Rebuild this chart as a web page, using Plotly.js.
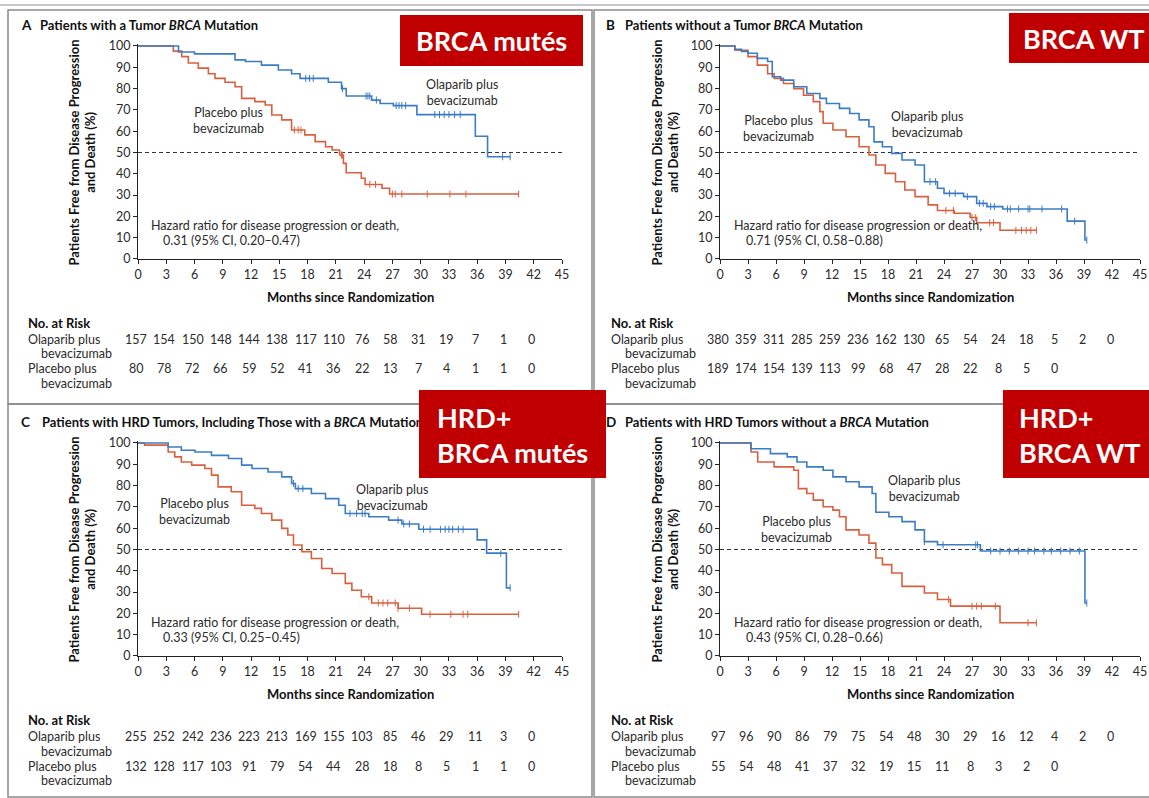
<!DOCTYPE html>
<html><head><meta charset="utf-8">
<script src="https://cdn.plot.ly/plotly-3.0.1.min.js"></script>
<style>html,body{margin:0;padding:0;background:#fff}#chart{width:1149px;height:798px}</style>
</head><body><div id="chart"></div>
<script>
// ---------------- DATA ----------------
const xTicks = [0,3,6,9,12,15,18,21,24,27,30,33,36,39,42,45];
const yTicks = [0,10,20,30,40,50,60,70,80,90,100];
const riskMonths = [0,3,6,9,12,15,18,21,24,27,30,33,36,39,42];

// Panel A: tumor BRCA mutation
const aOlaT = [0,4.3,6.0,10.3,11.4,13.1,14.9,16.3,17.2,20.2,21.6,22.1,24.8,25.7,27.1,29.6,35.8,37.1,39.5];
const aOlaS = [100,97.2,96.3,93.5,92.7,91,88.7,87,84.8,83,80,76.5,74.6,73,72,67.8,57.6,48,48];
const aPlaT = [0,3.75,4.64,5.34,6.4,7.47,8.17,9.24,10.3,11.0,12.4,13.5,14.2,15.25,16.3,17.7,18.8,19.9,20.6,21.4,21.8,22.1,23.7,24.1,25.9,26.7,40.4];
const aPlaS = [100,97.6,95,92,89.6,87,84.8,83,80.9,75.4,73.9,72.3,67.6,65.3,60.6,58.3,55.1,52.7,51.2,48.8,44.9,40.5,37.9,35,33.2,30.5,30.5];
const aOlaCens = [17.8,18.2,18.6,21.7,24.2,24.4,24.6,25.3,27.4,27.7,28.0,28.4,31.5,32.0,32.5,33.0,33.6,34.2,38.7,39.5];
const aPlaCens = [16.6,17.0,17.3,21.6,21.7,24.6,25.2,27.0,27.3,28.0,30.7,33.1,34.8,40.4];
const aRiskOla = [157,154,150,148,144,138,117,110,76,58,31,19,7,1,0];
const aRiskPla = [80,78,72,66,59,52,41,36,22,13,7,4,1,1,0];

// Panel B: no tumor BRCA mutation
const bOlaT = [0,1.6,2.3,3.0,4.0,5.1,5.6,6.5,7.9,9.3,10.7,11.4,12.8,13.9,14.9,15.96,16.5,17.4,18.4,19.5,20.9,21.9,23.3,24.0,26.1,27.5,28.6,30.3,37.2,39.1,39.3];
const bOlaS = [100,98.5,97.5,96.6,94.2,92.7,85.6,84,80.9,77.7,75.4,73,70.7,68.3,65.3,62.1,55,52.7,49.6,46.5,44.1,36.3,33.2,30.8,29.3,26.1,24.6,23.5,17.8,8.9,8.9];
const bPlaT = [0,1.6,3.0,4.0,5.1,5.8,6.8,7.9,8.95,10.0,10.7,11.05,12.1,13.5,14.9,15.96,16.7,17.7,18.8,19.8,20.9,22.3,23.3,25.1,26.8,27.5,30.0,33.9];
const bPlaS = [100,98,95,91,87,84.8,82.4,80,76.9,73.9,69.2,63.7,60.6,57.4,52.7,48.8,44.1,40.2,36.3,32.4,29.3,25.4,22.8,21.5,19.5,17,13.5,13.5];
const bOlaCens = [22.5,23.1,24.6,25.2,26.5,27.8,28.2,29.0,29.4,30.8,31.1,32.0,33.0,33.2,34.5,36.6,38.0,39.3];
const bPlaCens = [24.2,25.0,27.0,27.4,28.9,29.3,31.7,32.3,32.8,33.3,33.9];
const bRiskOla = [380,359,311,285,259,236,162,130,65,54,24,18,5,2,0];
const bRiskPla = [189,174,154,139,113,99,68,47,28,22,8,5,0];

// Panel C: HRD tumors incl. BRCA mutation
const cOlaT = [0,3.2,4.6,6.05,7.8,9.6,11.0,12.1,13.8,15.25,16.3,16.7,18.4,19.9,21.3,22.0,24.5,26.6,28.0,29.8,36.0,37.0,39.1,39.5];
const cOlaS = [100,98.1,96.6,95.8,94.2,92.7,89.6,88,86.4,84.1,81,78.6,76.3,73.9,70.8,66.9,65.4,63.8,62.0,59.5,54.5,48.3,32,32];
const cPlaT = [0,0.7,3.2,3.9,4.6,5.7,7.1,7.8,8.5,9.9,11.0,12.4,13.1,14.2,15.25,15.9,16.5,17.4,18.4,19.5,20.6,22.0,22.7,23.7,24.8,27.6,30.1,40.4];
const cPlaS = [100,99,95.8,93.5,91.1,89.6,88,84.9,79.4,77.1,70.8,69.3,66.9,63.8,59.9,56.8,52.1,49,45.8,41.1,38.7,34.1,30.9,27.8,24.9,22.4,19.6,19.6];
const cOlaCens = [16.5,17.0,17.5,22.5,23.2,23.8,24.1,27.6,28.2,28.8,30.3,31.0,32.1,32.6,33.0,33.4,34.0,34.5,38.5,39.5];
const cPlaCens = [24.5,25.5,26.0,26.5,27.3,27.6,28.8,31.0,33.2,34.5,35.0,40.4];
const cRiskOla = [255,252,242,236,223,213,169,155,103,85,46,29,11,3,0];
const cRiskPla = [132,128,117,103,91,79,54,44,28,18,8,5,1,1,0];

// Panel D: HRD tumors without BRCA mutation
const dOlaT = [0,3.3,5.4,7.2,8.25,9.3,11.05,12.1,13.5,14.9,16.3,16.7,18.1,19.5,20.9,21.9,23.3,27.9,39.1,39.3];
const dOlaS = [100,97.3,95,93.5,91.1,88.8,87.2,84.1,81.8,79.4,76.3,67.5,65.4,63.1,59.2,53.7,52.2,49.3,24.9,24.9];
const dPlaT = [0,3.33,4.04,5.8,7.9,8.4,9.3,10.0,11.05,12.1,12.8,13.5,14.9,15.96,16.7,17.4,18.4,19.5,21.9,23.3,24.7,30.0,33.9];
const dPlaS = [100,95.8,91.1,88.8,87.2,78.6,76.3,73.2,70.1,68.5,65.4,59.2,56.8,53.0,46,42.9,39,32.7,29.6,26.5,23.4,15.6,15.6];
const dOlaCens = [21.9,23.9,27.4,27.6,29.0,30.0,31.0,32.0,33.0,33.7,34.7,35.5,36.5,37.5,38.5,39.3];
const dPlaCens = [24.5,27.0,27.5,28.0,29.5,33.0,33.9];
const dRiskOla = [97,96,90,86,79,75,54,48,30,29,16,12,4,2,0];
const dRiskPla = [55,54,48,41,37,32,19,15,11,8,3,2,0];

const panelLetters = ['A','B','C','D'];
const panelTitles = [
  'Patients with a Tumor <i>BRCA</i> Mutation',
  'Patients without a Tumor <i>BRCA</i> Mutation',
  'Patients with HRD Tumors, Including Those with a <i>BRCA</i> Mutation',
  'Patients with HRD Tumors without a <i>BRCA</i> Mutation'
];
const hrValues = ['0.31 (95% CI, 0.20–0.47)','0.71 (95% CI, 0.58–0.88)','0.33 (95% CI, 0.25–0.45)','0.43 (95% CI, 0.28–0.66)'];
const badgeTexts = ['BRCA mutés','BRCA WT','HRD+<br>BRCA mutés','HRD+<br>BRCA WT'];

// ---------------- LAYOUT ----------------
const W = 1149, H = 798;
const BLUE = '#3b7cc4', RED = '#d9603e', TXT = '#2b2b2b';
const FONT = 'Lato, "Open Sans", sans-serif';
const FS = 12.5;      // regular text
const FSB = 13;       // bold headings

const series = [
  {olaT:aOlaT, olaS:aOlaS, plaT:aPlaT, plaS:aPlaS, olaC:aOlaCens, plaC:aPlaCens, rOla:aRiskOla, rPla:aRiskPla},
  {olaT:bOlaT, olaS:bOlaS, plaT:bPlaT, plaS:bPlaS, olaC:bOlaCens, plaC:bPlaCens, rOla:bRiskOla, rPla:bRiskPla},
  {olaT:cOlaT, olaS:cOlaS, plaT:cPlaT, plaS:cPlaS, olaC:cOlaCens, plaC:cPlaCens, rOla:cRiskOla, rPla:cRiskPla},
  {olaT:dOlaT, olaS:dOlaS, plaT:dPlaT, plaS:dPlaS, olaC:dOlaCens, plaC:dPlaCens, rOla:dRiskOla, rPla:dRiskPla}
];

const geo = [
  {px0:138, px1:562, py0:259, py100:46, letterX:18.5, titleX:37.5, titleY:25, tabL:26, tabI:39, dy:0, yTitleX:82,
   hrX:148.6, hrX2:161, hrY:226, olaLab:[462,93], plaLab:[228,120.5]},
  {px0:720, px1:1140, py0:259, py100:46, letterX:603.5, titleX:622.8, titleY:25, tabL:609, tabI:622.5, dy:0, yTitleX:665,
   hrX:732, hrX2:744.4, hrY:226, olaLab:[927,124.5], plaLab:[778,128]},
  {px0:138, px1:562, py0:656, py100:443, letterX:18.8, titleX:39.5, titleY:421.7, tabL:26, tabI:39, dy:397, yTitleX:82,
   hrX:148.6, hrX2:161, hrY:622.7, olaLab:[392,497.5], plaLab:[195,511.5]},
  {px0:720, px1:1140, py0:656, py100:443, letterX:603.5, titleX:622.8, titleY:421.7, tabL:609, tabI:622.5, dy:397, yTitleX:665,
   hrX:732, hrX2:744.4, hrY:622.7, olaLab:[924,488], plaLab:[796,529.5]}
];
const badges = [
  {x0:400, x1:583, y0:15, y1:66, cx:491.5, cy:40.5, align:'center'},
  {x0:1009, x1:1149, y0:13, y1:63, cx:1084, cy:38, align:'center'},
  {x0:419, x1:606, y0:390, y1:478, lx:434.5, cy:434.5, align:'left'},
  {x0:1003, x1:1149, y0:390, y1:478, lx:1017, cy:434.5, align:'left'}
];

const YMAX = 100.8;
const px = x => x / W;
const py = y => 1 - y / H;

function stepAt(t, T, S) {
  let v = S[0];
  for (let i = 0; i < T.length; i++) { if (T[i] <= t) v = S[i]; }
  return v;
}

const traces = [];
const layout = {
  width: W, height: H, margin: {l:0, r:0, t:0, b:0},
  paper_bgcolor: '#fff', plot_bgcolor: 'rgba(0,0,0,0)',
  showlegend: false, font: {family: FONT, size: FS, color: TXT},
  shapes: [], annotations: []
};

function ann(o) {
  layout.annotations.push(Object.assign({showarrow:false, font:{family:FONT, size:FS, color:TXT}}, o));
}

geo.forEach((g, i) => {
  const k = i === 0 ? '' : String(i + 1);
  const xa = 'x' + k, ya = 'y' + k;
  const s = series[i];
  const yTopPx = g.py0 - (g.py0 - g.py100) * YMAX / 100;
  const axisCommon = {
    showline: true, linecolor: '#222', linewidth: 1, ticks: 'outside', ticklen: 4, tickwidth: 1,
    tickcolor: '#222', showgrid: false, zeroline: false, fixedrange: true,
    tickfont: {family: FONT, size: FS, color: TXT}
  };
  layout['xaxis' + k] = Object.assign({}, axisCommon, {
    domain: [px(g.px0), px(g.px1)], range: [0, 45], tickvals: xTicks, ticktext: xTicks.map(String), anchor: ya,
    ticklabeloverflow: 'allow'
  });
  layout['yaxis' + k] = Object.assign({}, axisCommon, {
    domain: [py(g.py0), py(yTopPx)], range: [0, YMAX], tickvals: yTicks, ticktext: yTicks.map(String), anchor: xa,
    ticklabelstandoff: 0
  });

  // curves
  traces.push({x: s.plaT, y: s.plaS, xaxis: xa, yaxis: ya, mode: 'lines', line: {shape: 'hv', color: RED, width: 1.6}, hoverinfo: 'skip'});
  traces.push({x: s.olaT, y: s.olaS, xaxis: xa, yaxis: ya, mode: 'lines', line: {shape: 'hv', color: BLUE, width: 1.6}, hoverinfo: 'skip'});
  // censor ticks
  traces.push({x: s.plaC, y: s.plaC.map(t => stepAt(t, s.plaT, s.plaS)), xaxis: xa, yaxis: ya, mode: 'markers',
    marker: {symbol: 'line-ns-open', size: 5, color: RED, line: {color: RED, width: 1}}, hoverinfo: 'skip'});
  traces.push({x: s.olaC, y: s.olaC.map(t => stepAt(t, s.olaT, s.olaS)), xaxis: xa, yaxis: ya, mode: 'markers',
    marker: {symbol: 'line-ns-open', size: 5, color: BLUE, line: {color: BLUE, width: 1}}, hoverinfo: 'skip'});

  // dashed median line
  layout.shapes.push({type: 'line', xref: xa, yref: ya, x0: 0, x1: 45, y0: 50, y1: 50,
    line: {color: '#333', width: 1, dash: '4px,3px'}, layer: 'below'});

  // panel letter + title
  ann({xref:'paper', yref:'paper', x: px(g.letterX), y: py(g.titleY), xanchor:'left', yanchor:'middle',
       text: '<b>' + panelLetters[i] + '</b>', font:{family:FONT, size:13.5, color:'#111'}});
  ann({xref:'paper', yref:'paper', x: px(g.titleX), y: py(g.titleY), xanchor:'left', yanchor:'middle',
       text: '<b>' + panelTitles[i] + '</b>', font:{family:FONT, size:FSB, color:'#111'}});

  // axis titles
  ann({xref:'paper', yref:'paper', x: px(g.yTitleX), y: py((g.py0 + g.py100) / 2), xanchor:'center', yanchor:'middle',
       textangle: -90, text: '<b>Patients Free from Disease Progression<br>and Death (%)</b>',
       font:{family:FONT, size:FSB, color:'#111'}});
  ann({xref:'paper', yref:'paper', x: px((g.px0 + g.px1) / 2), y: py(297 + g.dy), xanchor:'center', yanchor:'middle',
       text: '<b>Months since Randomization</b>', font:{family:FONT, size:FSB, color:'#111'}});

  // curve labels
  ann({xref:'paper', yref:'paper', x: px(g.olaLab[0]), y: py(g.olaLab[1]), xanchor:'center', yanchor:'middle',
       text: 'Olaparib plus<br>bevacizumab', align:'center'});
  ann({xref:'paper', yref:'paper', x: px(g.plaLab[0]), y: py(g.plaLab[1]), xanchor:'center', yanchor:'middle',
       text: 'Placebo plus<br>bevacizumab', align:'center'});

  // hazard ratio
  ann({xref:'paper', yref:'paper', x: px(g.hrX), y: py(g.hrY), xanchor:'left', yanchor:'middle',
       text: 'Hazard ratio for disease progression or death,'});
  ann({xref:'paper', yref:'paper', x: px(g.hrX2), y: py(g.hrY + 14.5), xanchor:'left', yanchor:'middle',
       text: hrValues[i]});

  // risk table
  const d = g.dy;
  ann({xref:'paper', yref:'paper', x: px(g.tabL), y: py(323 + d), xanchor:'left', yanchor:'middle',
       text: '<b>No. at Risk</b>', font:{family:FONT, size:FSB, color:'#111'}});
  ann({xref:'paper', yref:'paper', x: px(g.tabL), y: py(339 + d), xanchor:'left', yanchor:'middle', text: 'Olaparib plus'});
  ann({xref:'paper', yref:'paper', x: px(g.tabI), y: py(354 + d), xanchor:'left', yanchor:'middle', text: 'bevacizumab'});
  ann({xref:'paper', yref:'paper', x: px(g.tabL), y: py(369 + d), xanchor:'left', yanchor:'middle', text: 'Placebo plus'});
  ann({xref:'paper', yref:'paper', x: px(g.tabI), y: py(383 + d), xanchor:'left', yanchor:'middle', text: 'bevacizumab'});
  s.rOla.forEach((v, j) => ann({xref: xa, yref:'paper', x: riskMonths[j], y: py(339 + d), xanchor:'center', yanchor:'middle',
       xshift: -2, text: String(v)}));
  s.rPla.forEach((v, j) => ann({xref: xa, yref:'paper', x: riskMonths[j], y: py(369 + d), xanchor:'center', yanchor:'middle',
       xshift: -2, text: String(v)}));
});

// frame lines
const frameColor = '#8a8a8a';
layout.shapes.push({type:'line', xref:'paper', yref:'paper', x0:0, x1:1, y0:py(5), y1:py(5), line:{color:'#b5b5b5', width:1.5}});
[[8,10,592,404],[594,10,1152,404],[8,404,592,797],[594,404,1152,797]].forEach(r => {
  layout.shapes.push({type:'rect', xref:'paper', yref:'paper', x0:px(r[0]), x1:px(r[2]), y0:py(r[3]), y1:py(r[1]),
    line:{color:frameColor, width:1.5}, fillcolor:'rgba(0,0,0,0)', layer:'below'});
});

// red badges (drawn last so they cover the text underneath)
badges.forEach((b, i) => {
  ann({xref:'paper', yref:'paper', x: px(b.x0), y: py(b.y0), xanchor:'left', yanchor:'top',
       text: ' ', width: b.x1 - b.x0, height: b.y1 - b.y0, bgcolor: '#c00000', borderpad: 0, borderwidth: 0});
});
badges.forEach((b, i) => {
  const o = {xref:'paper', yref:'paper', y: py(b.cy), yanchor:'middle', text: '<b>' + badgeTexts[i] + '</b>',
       align: b.align, font:{family:'Lato, "Open Sans", sans-serif', size:27, color:'#ffffff'}};
  if (b.align === 'center') { o.x = px(b.cx); o.xanchor = 'center'; }
  else { o.x = px(b.lx); o.xanchor = 'left'; }
  ann(o);
});

Plotly.newPlot('chart', traces, layout, {displayModeBar: false, staticPlot: true});
</script>
</body></html>
